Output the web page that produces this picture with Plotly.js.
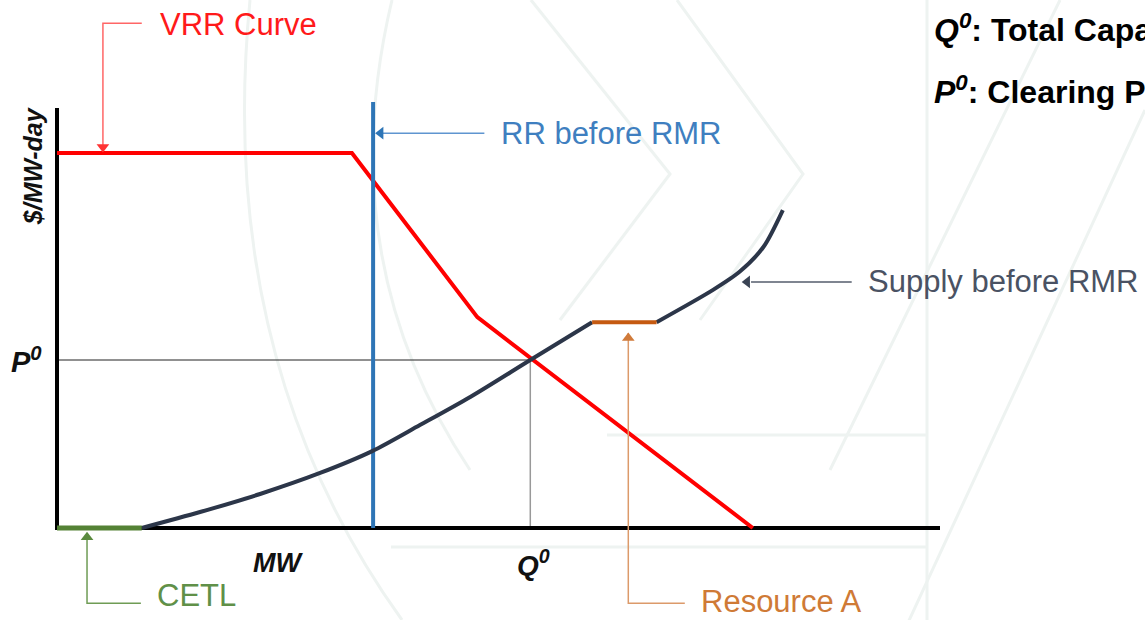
<!DOCTYPE html>
<html>
<head>
<meta charset="utf-8">
<script src="https://cdn.plot.ly/plotly-3.0.1.min.js"></script>
<style>html,body{margin:0;padding:0;background:#fff;overflow:hidden}#chart{width:1145px;height:620px}</style>
</head>
<body>
<div id="chart"></div>
<script>
// ---- data (schematic units: MW 0..100, $/MW-day 0..100) ----
const vrrX = [0, 33.4, 47.6, 78.8];
const vrrY = [89.3, 89.3, 50.2, 0];
const rrBeforeRMR = 35.8;
const rrTop = 101.4;
const supplyLowX = [9.6, 16.2, 23.0, 29.8, 35.7, 41.1, 46.8, 53.6, 60.6];
const supplyLowY = [0, 3.8, 8.1, 13.1, 18.3, 24.5, 31.2, 40.0, 49.0];
const resourceAX = [60.6, 67.9];
const resourceAY = [49.0, 49.0];
const supplyHighX = [67.9, 74.3, 77.3, 80.0, 82.2];
const supplyHighY = [49.0, 56.7, 61.0, 66.9, 75.7];
const cetlX = [0, 9.6];
const cetlY = [0, 0];
const Q0 = 53.6;
const P0 = 40.0;
const axisMaxX = 100;
const axisMaxY = 100;

const FONT = '"Liberation Sans", Arial, sans-serif';
const RED = '#ff0000', BLUE = '#2e75b6', SUPPLY = '#2c3649', ORANGE = '#c55a11', GREEN = '#548235';

function line(x, y, color, width, shape) {
  return {x: x, y: y, mode: 'lines', type: 'scatter', hoverinfo: 'skip', showlegend: false,
          line: {color: color, width: width, shape: shape || 'linear', smoothing: 0.8}};
}
function tri(x, y, symbol, color) {
  return {x: [x], y: [y], mode: 'markers', type: 'scatter', hoverinfo: 'skip', showlegend: false,
          marker: {symbol: symbol, size: 11, color: color, line: {width: 0}}};
}

// pixel scale helpers (for callout offsets / decoration)
const pxX = 8.83, pxY = 4.2;
const dX = px => (px - 57) / pxX;
const dY = py => (528 - py) / pxY;

const traces = [
  // guides
  line([0, Q0], [P0, P0], '#222222', 1),
  line([Q0, Q0], [0, P0], '#999999', 1.5),
  // axes
  line([0, 0, axisMaxX], [axisMaxY, 0, 0], '#000000', 4),
  // curves
  line(vrrX, vrrY, RED, 4),
  line([rrBeforeRMR, rrBeforeRMR], [0, rrTop], BLUE, 4),
  line(supplyLowX, supplyLowY, SUPPLY, 4, 'spline'),
  line(supplyHighX, supplyHighY, SUPPLY, 4, 'spline'),
  line(resourceAX, resourceAY, ORANGE, 4),
  line(cetlX, cetlY, GREEN, 5),
  // callouts
  line([5.2, 5.2, 9.6], [vrrY[0] + 1, 120.2, 120.2], '#ff6666', 1.5),
  line([rrBeforeRMR + 1, 48.4], [94.0, 94.0], '#5f95d0', 1.5),
  line([77.6 + 1, 90.0], [58.6, 58.6], '#555d6c', 1.5),
  line([64.7, 64.7, 71.1], [46.4, -17.9, -17.9], '#dc9a6a', 1.5),
  line([3.4, 3.4, 9.5], [-1.5, -17.9, -17.9], '#6f9c55', 1.5),
  // arrowheads
  tri(5.2, vrrY[0] + 6 / pxY, 'triangle-down', '#ff3333'),
  tri(rrBeforeRMR + 7.5 / pxX, 94.0, 'triangle-left', '#2e75b6'),
  tri(77.6 + 5 / pxX, 58.6, 'triangle-left', '#3a4354'),
  tri(64.7, 46.4 - 5 / pxY, 'triangle-up', '#d07a3a'),
  tri(3.4, -1.0 - 5 / pxY, 'triangle-up', '#5a8a3e')
];

const annotations = [
  {x: 11.4, y: 119.8, text: 'VRR Curve', color: '#ff1a1a'},
  {x: 50.1, y: 94.0, text: 'RR before RMR', color: '#3f7fc0'},
  {x: 91.6, y: 58.8, text: 'Supply before RMR', color: '#4a5263'},
  {x: 72.7, y: -17.6, text: 'Resource A', color: '#cf7a36'},
  {x: 11.1, y: -16.0, text: 'CETL', color: '#609048'}
].map(a => ({x: a.x, y: a.y, xref: 'x', yref: 'y', text: a.text, showarrow: false,
  xanchor: 'left', yanchor: 'middle', font: {family: FONT, size: 31, color: a.color}}));

annotations.push(
  {x: 25.0, y: -8.3, text: '<b><i>MW</i></b>', showarrow: false, xanchor: 'center', yanchor: 'middle',
   font: {family: FONT, size: 27, color: '#111'}},
  {x: Q0 + 0.4, y: -8.3, text: '<b><i>Q<sup>0</sup></i></b>', showarrow: false, xanchor: 'center', yanchor: 'middle',
   font: {family: FONT, size: 28, color: '#111'}},
  {x: -3.5, y: P0, text: '<b><i>P<sup>0</sup></i></b>', showarrow: false, xanchor: 'center', yanchor: 'middle',
   font: {family: FONT, size: 29, color: '#111'}},
  {x: -2.7, y: dY(166), text: '<b><i>$/MW-day</i></b>', showarrow: false, textangle: -90, xanchor: 'center', yanchor: 'middle',
   font: {family: FONT, size: 25, color: '#111'}},
  {x: 932 / 1145, y: 1 - 28 / 620, xref: 'paper', yref: 'paper', text: '<b><i>Q<sup>0</sup></i>: Total Capacity Cleared</b>',
   showarrow: false, xanchor: 'left', yanchor: 'middle', font: {family: FONT, size: 32, color: '#000'}},
  {x: 932 / 1145, y: 1 - 90 / 620, xref: 'paper', yref: 'paper', text: '<b><i>P<sup>0</sup></i>: Clearing Price</b>',
   showarrow: false, xanchor: 'left', yanchor: 'middle', font: {family: FONT, size: 32, color: '#000'}}
);

// faint background watermark lines
const WM = '#eef3f1';
function wmPath(pts) {
  let d = '';
  pts.forEach((p, i) => {
    if (p[0] === 'Q') d += ' Q' + dX(p[1]) + ',' + dY(p[2]) + ' ' + dX(p[3]) + ',' + dY(p[4]);
    else d += (i === 0 ? 'M' : ' L') + dX(p[0]) + ',' + dY(p[1]);
  });
  return {type: 'path', xref: 'x', yref: 'y', path: d, layer: 'below', line: {color: WM, width: 3}};
}
const shapes = [
  wmPath([[250, 0], ['Q', 215, 360, 402, 620]]),
  wmPath([[392, 0], ['Q', 330, 260, 470, 470]]),
  wmPath([[531, 0], [670, 174], [560, 320]]),
  wmPath([[677, 0], [803, 174], [700, 320]]),
  wmPath([[927, 0], [927, 620]]),
  wmPath([[607, 435], [927, 435]]),
  wmPath([[391, 547], [927, 547]]),
  wmPath([[1145, 110], [900, 640]]),
  wmPath([[1060, 0], [830, 470]])
];

const layout = {
  width: 1145, height: 620,
  margin: {l: 0, r: 0, t: 0, b: 0, pad: 0},
  paper_bgcolor: '#ffffff', plot_bgcolor: '#ffffff',
  xaxis: {range: [-57 / pxX, (1145 - 57) / pxX], visible: false, fixedrange: true},
  yaxis: {range: [(528 - 620) / pxY, 528 / pxY], visible: false, fixedrange: true},
  showlegend: false,
  shapes: shapes,
  annotations: annotations
};

Plotly.newPlot('chart', traces, layout, {displayModeBar: false, staticPlot: true});
</script>
</body>
</html>
